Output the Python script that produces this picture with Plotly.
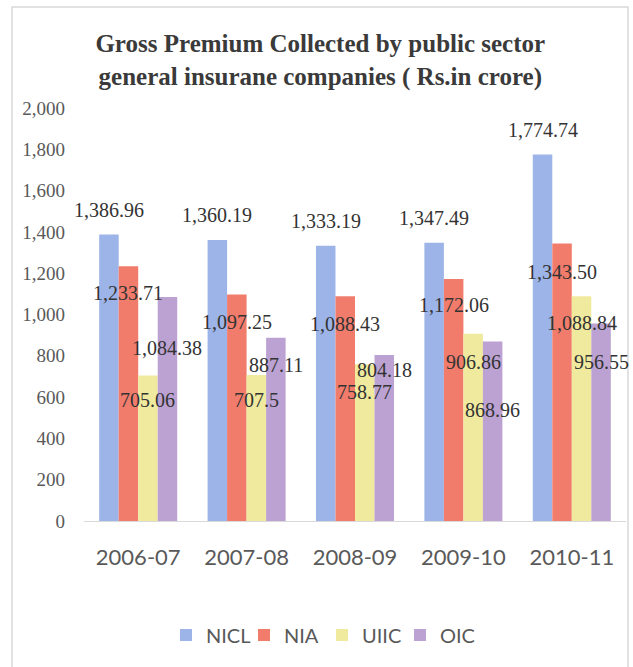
import plotly.graph_objects as go

# ---- data ----
years = ["2006-07", "2007-08", "2008-09", "2009-10", "2010-11"]
series_names = ["NICL", "NIA", "UIIC", "OIC"]
nicl = [1386.96, 1360.19, 1333.19, 1347.49, 1774.74]
nia = [1233.71, 1097.25, 1088.43, 1172.06, 1343.50]
uiic = [705.06, 707.5, 758.77, 906.86, 1088.84]
oic = [1084.38, 887.11, 804.18, 868.96, 956.55]
nicl_txt = ["1,386.96", "1,360.19", "1,333.19", "1,347.49", "1,774.74"]
nia_txt = ["1,233.71", "1,097.25", "1,088.43", "1,172.06", "1,343.50"]
uiic_txt = ["705.06", "707.5", "758.77", "906.86", "1,088.84"]
oic_txt = ["1,084.38", "887.11", "804.18", "868.96", "956.55"]
y_ticks = [0, 200, 400, 600, 800, 1000, 1200, 1400, 1600, 1800, 2000]

# ---- style ----
colors = ["#9DB4E8", "#F17C6C", "#EFEA9E", "#BCA2D2"]
# vertical label offsets (px) relative to bar top, as placed in the original
label_shift = [
    [25, 25, 25, 25, 25],
    [-27, -28, -28, -26, -28],
    [-25, -25, -28, -28, -27],
    [-51, -27, -15, -68, -39],
]
BARGAP = 0.28

all_vals = [nicl, nia, uiic, oic]
all_txt = [nicl_txt, nia_txt, uiic_txt, oic_txt]

fig = go.Figure()
for name, vals, col in zip(series_names, all_vals, colors):
    fig.add_trace(go.Bar(x=list(range(len(years))), y=vals, name=name,
                         marker=dict(color=col, line=dict(width=0))))

n = len(series_names)
bw = (1 - BARGAP) / n
for k in range(n):
    for i, (v, t) in enumerate(zip(all_vals[k], all_txt[k])):
        fig.add_annotation(x=i + (k - (n - 1) / 2) * bw, y=v, text=t,
                           showarrow=False, yshift=label_shift[k][i],
                           xanchor="center", yanchor="middle",
                           font=dict(family="Liberation Serif", size=20, color="#333333"))

# outer chart border
fig.add_shape(type="rect", xref="paper", yref="paper",
              x0=-0.1328, x1=1.0037, y0=-0.36, y1=1.2446,
              line=dict(color="#D9D9D9", width=1.5), fillcolor="rgba(0,0,0,0)")

fig.update_layout(
    width=633, height=667,
    margin=dict(l=84, r=7, t=108, b=146),
    paper_bgcolor="white", plot_bgcolor="white",
    barmode="group", bargap=BARGAP, bargroupgap=0,
    title=dict(text="Gross Premium Collected by public sector<br>general insurane companies ( Rs.in crore)",
               x=0.506, xanchor="center", xref="container",
               y=1 - 52 / 667, yanchor="top", yref="container",
               font=dict(family="Liberation Serif", size=25, color="#3A3A3A", weight="bold")),
    xaxis=dict(tickmode="array", tickvals=list(range(len(years))), ticktext=years,
               range=[-0.5, len(years) - 0.5],
               showline=True, linecolor="#D9D9D9", linewidth=1,
               showgrid=False, ticks="", ticklabelstandoff=17,
               tickfont=dict(family="Lato", size=22, color="#595959")),
    yaxis=dict(range=[0, 2000], tickvals=y_ticks, tickformat=",",
               showline=False, showgrid=False, zeroline=False, ticks="",
               ticklabelstandoff=18,
               tickfont=dict(family="Liberation Serif", size=19, color="#595959")),
    legend=dict(orientation="h", x=(166 - 84) / 542, xanchor="left",
                y=(521 - 635) / 413, yanchor="middle",
                font=dict(family="Lato", size=20, color="#595959"),
                entrywidth=33, entrywidthmode="pixels", traceorder="normal"),
    showlegend=True,
)

fig.write_html("out.html")
